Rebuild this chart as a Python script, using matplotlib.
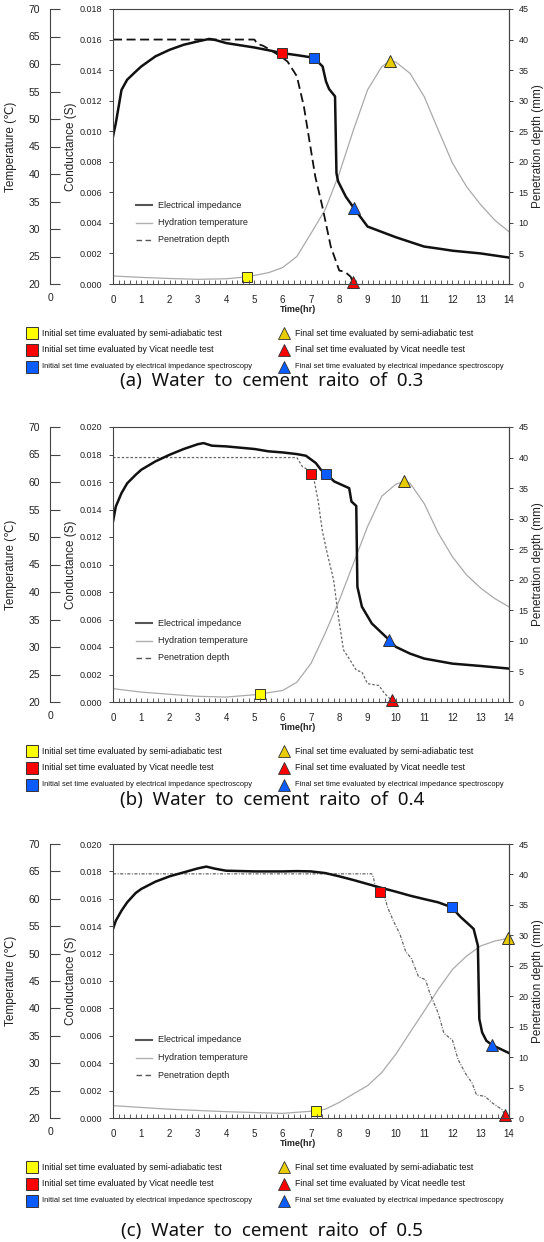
import matplotlib
matplotlib.use('Agg')
import matplotlib.pyplot as plt
from matplotlib.lines import Line2D
from matplotlib.ticker import MultipleLocator, FormatStrFormatter

# ---------------- data ----------------
hours = list(range(0, 15))

# (a) w/c 0.3
a_imp_t = [0, 0.1, 0.3, 0.5, 0.8, 1, 1.5, 2, 2.5, 3, 3.4, 3.6, 4, 5, 5.5, 5.96, 6.5, 7.1, 7.41, 7.53,
           7.64, 7.85, 7.9, 7.96, 8.23, 8.52, 9, 10, 11, 11.5, 12, 13, 14]
a_imp_g = [0.00966, 0.01053, 0.0127, 0.01337, 0.0139, 0.01424, 0.0149, 0.01533, 0.01566, 0.01588,
           0.01604, 0.01598, 0.01577, 0.01548, 0.0153, 0.01512, 0.01498, 0.01481, 0.01424, 0.01326,
           0.01276, 0.01228, 0.00725, 0.00671, 0.00572, 0.00496, 0.00376, 0.00306, 0.00245, 0.00232,
           0.00218, 0.0020, 0.00173]
a_tmp_t = [0, 1, 2, 3, 4, 4.73, 5.5, 6, 6.5, 7, 7.5, 8, 8.5, 9, 9.5, 9.8, 10, 10.5, 11, 11.5, 12,
           12.5, 13, 13.5, 14]
a_tmp_v = [21.46, 21.2, 21.0, 20.85, 20.95, 21.3, 22.06, 23.0, 25.0, 29.2, 33.5, 40.1, 48.0, 55.3,
           59.5, 60.6, 60.35, 58.3, 54.1, 48.0, 42.0, 37.7, 34.4, 31.6, 29.5]
a_pen_t = [0, 5.0, 5.1, 5.3, 5.6, 6.0, 6.17, 6.5, 6.75, 6.9, 7.15, 7.4, 7.7, 7.93, 8.0, 8.2, 8.4, 8.47]
a_pen_v = [40, 40, 39.3, 39.0, 38.2, 37.0, 36.4, 34.0, 29.0, 24.7, 17.6, 12.7, 6.1, 3.1, 2.2, 2.0,
           1.2, 0.4]

# (b) w/c 0.4
b_imp_t = [0, 0.1, 0.3, 0.5, 0.8, 1, 1.5, 2, 2.5, 3, 3.2, 3.5, 4, 5, 5.5, 6, 6.5, 6.82, 7.17, 7.35,
           7.53, 7.82, 8.35, 8.43, 8.6, 8.64, 8.8, 9.15, 9.77, 10, 10.5, 11, 12, 13, 14]
b_imp_g = [0.01312, 0.01422, 0.01519, 0.0159, 0.01652, 0.01689, 0.0175, 0.01798, 0.0184, 0.01875,
           0.01883, 0.01864, 0.01859, 0.0184, 0.01823, 0.01815, 0.01803, 0.01791, 0.01738, 0.01689,
           0.0166, 0.01604, 0.01555, 0.01458, 0.01426, 0.00838, 0.00693, 0.00571, 0.0045, 0.00401,
           0.00352, 0.00316, 0.00279, 0.00262, 0.00243]
b_tmp_t = [0, 1, 2, 3, 4, 5.2, 5.5, 6, 6.5, 7, 7.5, 8, 8.5, 9, 9.5, 10, 10.3, 10.5, 11, 11.5, 12,
           12.5, 13, 13.5, 14]
b_tmp_v = [22.43, 21.8, 21.4, 21.03, 20.9, 21.4, 21.7, 22.1, 23.6, 27.0, 32.5, 38.5, 45.2, 51.9,
           57.4, 59.6, 60.1, 59.8, 56.1, 50.7, 46.4, 43.1, 40.7, 38.8, 37.3]
b_pen_t = [0, 6.5, 6.7, 6.9, 7.1, 7.25, 7.4, 7.6, 7.8, 7.95, 8.15, 8.35, 8.6, 8.8, 9.0, 9.4, 9.6,
           9.8, 9.87]
b_pen_v = [40, 40, 38.5, 38, 36.5, 33, 28, 23.8, 20, 14.5, 8.5, 7.1, 5.2, 4.9, 3.0, 2.7, 1.4, 0.5,
           0.3]

# (c) w/c 0.5
c_imp_t = [0, 0.1, 0.3, 0.5, 0.8, 1, 1.5, 2, 2.5, 3, 3.3, 3.6, 4, 5, 5.5, 6, 6.5, 7, 7.5, 8, 8.5, 9,
           9.5, 10, 10.5, 11, 11.5, 11.97, 12.3, 12.6, 12.75, 12.9, 12.95, 13.05, 13.2, 13.4, 14]
c_imp_g = [0.0138, 0.0144, 0.01513, 0.01574, 0.01642, 0.01672, 0.01725, 0.01764, 0.01793, 0.01822,
           0.01835, 0.0182, 0.01805, 0.018, 0.018, 0.018, 0.01802, 0.018, 0.01788, 0.01764, 0.01737,
           0.01708, 0.01679, 0.01652, 0.01623, 0.01598, 0.01574, 0.01538, 0.01465, 0.01409, 0.0138,
           0.01258, 0.00723, 0.00625, 0.00564, 0.00533, 0.00474]
c_tmp_t = [0, 2, 4, 6, 7.18, 7.5, 8, 8.5, 9, 9.5, 10, 10.5, 11, 11.5, 12, 12.5, 13, 13.5, 13.98]
c_tmp_v = [22.25, 21.6, 21.15, 20.85, 21.3, 21.6, 22.85, 24.4, 25.9, 28.3, 31.65, 35.6, 39.5, 43.5,
           47.1, 49.55, 51.4, 52.3, 52.8]
c_pen_t = [0, 9.15, 9.2, 9.3, 9.6, 9.7, 9.9, 10.15, 10.35, 10.55, 10.8, 11.05, 11.2, 11.5, 11.7, 12.0,
           12.2, 12.45, 12.7, 12.85, 13.15, 13.4, 13.75, 13.85]
c_pen_v = [40.1, 40.1, 39.6, 37.5, 36.4, 34.7, 32.5, 30.1, 27.3, 26.2, 23.2, 22.7, 20.5, 17.2, 13.9,
           12.8, 9.6, 7.4, 5.7, 3.8, 3.55, 2.5, 1.4, 0.5]

# set-time markers: (time, value) in the unit of the axis they belong to
a_init_semi = (4.73, 21.3);  a_final_semi = (9.8, 60.6)      # temperature
a_init_vicat = (5.96, 0.01512); a_final_vicat = (8.47, 0.4)  # conductance / penetration
a_init_eis = (7.1, 0.01481);  a_final_eis = (8.52, 0.00496)  # conductance
b_init_semi = (5.2, 21.4);    b_final_semi = (10.3, 60.1)
b_init_vicat = (7.0, 0.0166); b_final_vicat = (9.87, 0.3)
b_init_eis = (7.53, 0.0166);  b_final_eis = (9.77, 0.0045)
c_init_semi = (7.18, 21.3);   c_final_semi = (13.98, 52.8)
c_init_vicat = (9.45, 0.01647); c_final_vicat = (13.85, 0.5)
c_init_eis = (11.97, 0.01538); c_final_eis = (13.4, 0.00533)

cond_max = [0.018, 0.020, 0.020]
captions = ["(a)  Water  to  cement  raito  of  0.3",
            "(b)  Water  to  cement  raito  of  0.4",
            "(c)  Water  to  cement  raito  of  0.5"]
inner_labels = ["Electrical impedance", "Hydration temperature", "Penetration depth"]
legend_left = ["Initial set time evaluated by semi-adiabatic test",
               "Initial set time evaluated by Vicat needle test",
               "Initial set time evaluated by electrical impedance spectroscopy"]
legend_right = ["Final set time evaluated by semi-adiabatic test",
                "Final set time evaluated by Vicat needle test",
                "Final set time evaluated by electrical impedance spectroscopy"]

# ---------------- figure ----------------
plt.rcParams['font.family'] = ['Liberation Sans', 'DejaVu Sans']
W, H = 544, 1242
fig = plt.figure(figsize=(W / 100, H / 100), dpi=100)
fig.patch.set_facecolor('white')

overlay = fig.add_axes([0, 0, 1, 1])
overlay.set_xlim(0, W)
overlay.set_ylim(H, 0)
overlay.axis('off')
overlay.set_zorder(10)
overlay.patch.set_visible(False)

YEL, YEL_T, RED, BLUE, EDGE = '#ffff00', '#e8cc00', '#ff0000', '#0a5cff', '#333333'
SPINE = '#444444'

panels = [
    dict(top=9, bot=284, gmax=cond_max[0], imp=(a_imp_t, a_imp_g), tmp=(a_tmp_t, a_tmp_v),
         pen=(a_pen_t, a_pen_v), pen_style=dict(color='#111111', lw=1.3, ls=(0, (5, 2.5))),
         mk=(a_init_semi, a_final_semi, a_init_vicat, a_final_vicat, a_init_eis, a_final_eis),
         cap_y=381, leg_y=(333, 350, 367), caption=captions[0]),
    dict(top=427, bot=702, gmax=cond_max[1], imp=(b_imp_t, b_imp_g), tmp=(b_tmp_t, b_tmp_v),
         pen=(b_pen_t, b_pen_v), pen_style=dict(color='#666666', lw=0.9, ls=(0, (2, 1.5))),
         mk=(b_init_semi, b_final_semi, b_init_vicat, b_final_vicat, b_init_eis, b_final_eis),
         cap_y=800, leg_y=(751, 768, 785), caption=captions[1]),
    dict(top=844, bot=1118, gmax=cond_max[2], imp=(c_imp_t, c_imp_g), tmp=(c_tmp_t, c_tmp_v),
         pen=(c_pen_t, c_pen_v), pen_style=dict(color='#666666', lw=0.9, ls=(0, (2.5, 1.2, 0.8, 1.2))),
         mk=(c_init_semi, c_final_semi, c_init_vicat, c_final_vicat, c_init_eis, c_final_eis),
         cap_y=1231, leg_y=(1167, 1184, 1201), caption=captions[2]),
]

X0, X1 = 113, 509
AW = X1 - X0
for p in panels:
    top, bot = p['top'], p['bot']
    ax = fig.add_axes([X0 / W, 1 - bot / H, AW / W, (bot - top) / H])
    axT = ax.twinx()
    axP = ax.twinx()
    ax.set_zorder(3)
    ax.patch.set_visible(False)
    axT.set_zorder(1)
    axP.set_zorder(2)

    ax.set_xlim(0, 14)
    ax.set_ylim(0, p['gmax'])
    axT.set_ylim(20, 70)
    axP.set_ylim(0, 45)

    # conductance axis
    ax.yaxis.set_major_locator(MultipleLocator(0.002))
    ax.yaxis.set_major_formatter(FormatStrFormatter('%.3f'))
    ax.tick_params(axis='y', direction='out', length=3, width=0.7, color=SPINE, labelsize=6.5,
                   pad=5, labelcolor='#222222')
    ax.xaxis.set_major_locator(MultipleLocator(1))
    ax.xaxis.set_minor_locator(MultipleLocator(0.2))
    ax.tick_params(axis='x', which='both', direction='in', length=3, width=0.6, color=SPINE,
                   labelsize=7, pad=8, labelcolor='#222222')
    for s in ax.spines.values():
        s.set_color(SPINE)
        s.set_linewidth(0.8)
    ax.set_ylabel('Conductance (S)', fontsize=8.5, color='#222222')
    ax.yaxis.set_label_coords((77 - X0) / AW, 0.5)

    # temperature axis (offset)
    axT.yaxis.tick_left()
    axT.yaxis.set_label_position('left')
    axT.spines['left'].set_position(('axes', (50 - X0) / AW))
    axT.spines['left'].set_visible(True)
    axT.spines['left'].set_color(SPINE)
    axT.spines['left'].set_linewidth(0.8)
    for k in ('right', 'top', 'bottom'):
        axT.spines[k].set_visible(False)
    axT.yaxis.set_major_locator(MultipleLocator(5))
    axT.tick_params(axis='y', direction='in', length=7, width=0.8, color=SPINE, labelsize=7.5,
                    pad=7, labelcolor='#222222')
    axT.set_ylabel('Temperature (\u2103)', fontsize=8.5, color='#222222')
    axT.yaxis.set_label_coords((17 - X0) / AW, 0.5)

    # penetration axis (right)
    for k in ('left', 'top', 'bottom'):
        axP.spines[k].set_visible(False)
    axP.spines['right'].set_color(SPINE)
    axP.spines['right'].set_linewidth(0.8)
    axP.yaxis.set_major_locator(MultipleLocator(5))
    axP.tick_params(axis='y', direction='out', length=3, width=0.7, color=SPINE, labelsize=6.5,
                    pad=4, labelcolor='#222222')
    axP.set_ylabel('Penetration depth (mm)', fontsize=8.5, color='#222222')
    axP.yaxis.set_label_coords((532 - X0) / AW, 0.5)

    # lines
    axT.plot(*p['tmp'], color='#aaaaaa', lw=0.9)
    axP.plot(*p['pen'], **p['pen_style'])
    ax.plot(*p['imp'], color='#111111', lw=1.8, solid_joinstyle='round')

    # markers
    i_semi, f_semi, i_vic, f_vic, i_eis, f_eis = p['mk']
    ms = 7
    axT.plot(*i_semi, marker='s', ms=ms, mfc=YEL, mec=EDGE, mew=0.7, clip_on=False, zorder=5)
    axT.plot(*f_semi, marker='^', ms=ms + 1, mfc=YEL_T, mec=EDGE, mew=0.7, clip_on=False, zorder=5)
    ax.plot(*i_vic, marker='s', ms=ms, mfc=RED, mec=EDGE, mew=0.7, clip_on=False, zorder=5)
    axP.plot(*f_vic, marker='^', ms=ms + 1, mfc=RED, mec=EDGE, mew=0.7, clip_on=False, zorder=5)
    ax.plot(*i_eis, marker='s', ms=ms, mfc=BLUE, mec=EDGE, mew=0.7, clip_on=False, zorder=5)
    ax.plot(*f_eis, marker='^', ms=ms + 1, mfc=BLUE, mec=EDGE, mew=0.7, clip_on=False, zorder=5)

    # inner legend
    styles = [dict(color='#555555', lw=1.5), dict(color='#b0b0b0', lw=1.0),
              dict(color='#555555', lw=1.0, ls=(0, (4, 2.5)))]
    for k, (lab, st) in enumerate(zip(inner_labels, styles)):
        yy = top + 196 + k * 17.5
        overlay.add_line(Line2D([136, 152], [yy, yy], **st))
        overlay.text(158, yy, lab, fontsize=6.5, va='center', ha='left', color='#222222')

    # extra annotations
    overlay.text(50, bot + 14, '0', fontsize=7.5, ha='center', va='center', color='#222222')
    overlay.text(298, bot + 26, 'Time(hr)', fontsize=6.5, fontweight='bold', ha='center',
                 va='center', color='#222222')

    # bottom legend
    lcol = [YEL, RED, BLUE]
    rcol = [YEL_T, RED, BLUE]
    for k in range(3):
        yy = p['leg_y'][k]
        overlay.plot(32, yy, marker='s', ms=8, mfc=lcol[k], mec=EDGE, mew=0.7)
        overlay.plot(284, yy, marker='^', ms=8, mfc=rcol[k], mec=EDGE, mew=0.6)
        fs = 6.2 if k < 2 else 5.4
        overlay.text(42, yy, legend_left[k], fontsize=fs, va='center', ha='left', color='#111111')
        overlay.text(295, yy, legend_right[k], fontsize=fs, va='center', ha='left', color='#111111')

    overlay.text(272, p['cap_y'], p['caption'], fontsize=13.5, ha='center', va='center',
                 family=['Noto Sans', 'DejaVu Sans'], color='#111111')

fig.savefig('out.png', dpi=100, facecolor='white')
